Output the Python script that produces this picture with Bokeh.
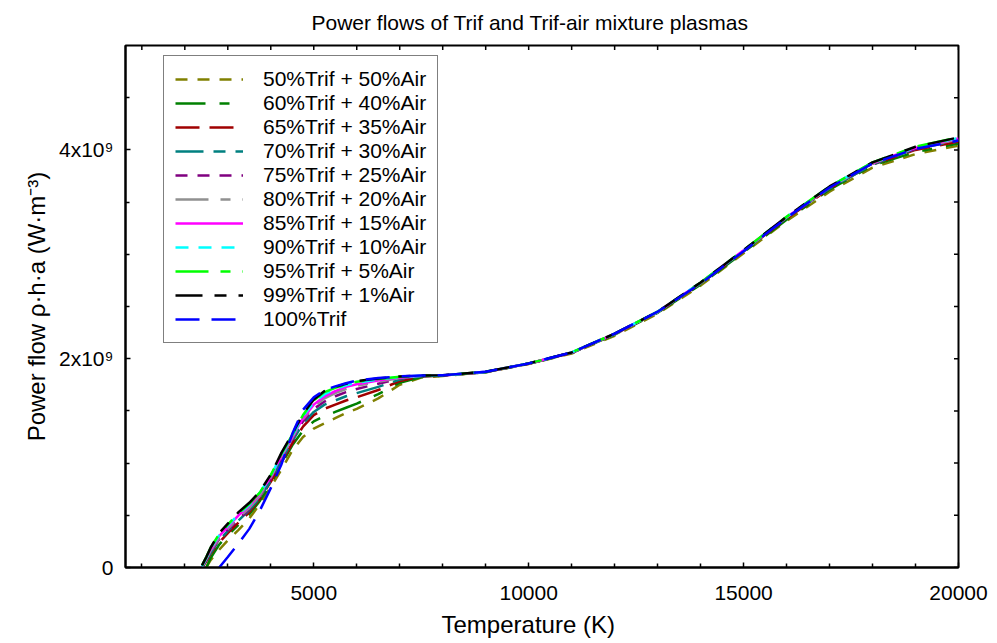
import math
from bokeh.plotting import figure
from bokeh.models import Range1d, FixedTicker, Legend, LegendItem, Title
from bokeh.embed import file_html
from bokeh.resources import INLINE

nan = float("nan")

# Temperature (K)
temperature = [2400, 2500, 2600, 2800, 3000, 3250, 3500, 3750, 4000, 4250, 4500,
               4750, 5000, 5250, 5500, 5750, 6000, 6500, 7000, 7500, 8000,
               9000, 10000, 11000, 12000, 13000, 14000, 15000, 16000, 17000,
               18000, 19000, 20000]

# Power flow in units of 1e9 W/m^3
trif50 = [nan, 0.00, 0.07, 0.17, 0.26, 0.36, 0.47, 0.61, 0.77, 0.94, 1.12, 1.25, 1.33, 1.38, 1.43, 1.48, 1.52, 1.62, 1.75, 1.82, 1.835,
          1.87, 1.95, 2.05, 2.22, 2.43, 2.70, 3.01, 3.32, 3.60, 3.83, 3.96, 4.04]
trif60 = [nan, 0.00, 0.09, 0.22, 0.31, 0.41, 0.51, 0.64, 0.80, 0.99, 1.17, 1.31, 1.40, 1.45, 1.49, 1.53, 1.57, 1.66, 1.77, 1.825, 1.838,
          1.871, 1.95, 2.055, 2.23, 2.44, 2.71, 3.02, 3.33, 3.62, 3.85, 3.98, 4.06]
trif65 = [0.00, 0.06, 0.13, 0.24, 0.33, 0.43, 0.53, 0.66, 0.82, 1.01, 1.19, 1.35, 1.46, 1.52, 1.56, 1.60, 1.63, 1.70, 1.785, 1.83, 1.839,
          1.872, 1.952, 2.056, 2.235, 2.445, 2.72, 3.03, 3.34, 3.63, 3.86, 4.00, 4.08]
trif70 = [0.00, 0.07, 0.14, 0.26, 0.35, 0.45, 0.55, 0.67, 0.83, 1.03, 1.21, 1.38, 1.49, 1.56, 1.60, 1.64, 1.67, 1.73, 1.80, 1.832, 1.84,
          1.872, 1.953, 2.057, 2.235, 2.445, 2.72, 3.03, 3.35, 3.63, 3.86, 4.01, 4.09]
trif75 = [0.00, 0.07, 0.15, 0.27, 0.36, 0.46, 0.56, 0.68, 0.85, 1.05, 1.23, 1.40, 1.52, 1.59, 1.64, 1.68, 1.71, 1.76, 1.81, 1.834, 1.84,
          1.873, 1.953, 2.058, 2.237, 2.447, 2.725, 3.035, 3.35, 3.64, 3.87, 4.01, 4.10]
trif80 = [0.01, 0.08, 0.16, 0.28, 0.37, 0.48, 0.57, 0.69, 0.86, 1.06, 1.24, 1.42, 1.54, 1.62, 1.67, 1.71, 1.74, 1.78, 1.815, 1.835, 1.84,
          1.873, 1.954, 2.058, 2.237, 2.447, 2.725, 3.035, 3.355, 3.64, 3.87, 4.02, 4.10]
trif85 = [0.01, 0.09, 0.17, 0.30, 0.39, 0.50, 0.59, 0.71, 0.87, 1.07, 1.25, 1.43, 1.56, 1.64, 1.69, 1.73, 1.755, 1.79, 1.82, 1.836, 1.84,
          1.874, 1.954, 2.059, 2.238, 2.448, 2.728, 3.038, 3.355, 3.645, 3.875, 4.02, 4.11]
trif90 = [0.01, 0.09, 0.18, 0.31, 0.40, 0.51, 0.60, 0.72, 0.88, 1.08, 1.26, 1.45, 1.58, 1.66, 1.71, 1.745, 1.77, 1.80, 1.825, 1.836, 1.84,
          1.874, 1.955, 2.06, 2.239, 2.449, 2.729, 3.039, 3.358, 3.648, 3.878, 4.025, 4.115]
trif95 = [0.02, 0.10, 0.19, 0.32, 0.41, 0.52, 0.61, 0.72, 0.885, 1.09, 1.27, 1.46, 1.60, 1.68, 1.72, 1.755, 1.78, 1.805, 1.828, 1.837, 1.84,
          1.875, 1.955, 2.06, 2.24, 2.45, 2.73, 3.04, 3.36, 3.65, 3.88, 4.03, 4.12]
trif99 = [0.02, 0.10, 0.19, 0.33, 0.42, 0.53, 0.62, 0.73, 0.89, 1.10, 1.28, 1.47, 1.61, 1.69, 1.73, 1.76, 1.785, 1.81, 1.83, 1.838, 1.842,
          1.875, 1.955, 2.06, 2.24, 2.45, 2.73, 3.04, 3.36, 3.65, 3.88, 4.03, 4.12]
trif100 = [nan, nan, nan, 0.00, 0.10, 0.23, 0.37, 0.55, 0.76, 0.99, 1.28, 1.51, 1.63, 1.70, 1.735, 1.765, 1.79, 1.815, 1.83, 1.838, 1.842,
           1.875, 1.955, 2.06, 2.24, 2.45, 2.72, 3.03, 3.35, 3.64, 3.87, 4.01, 4.09]

labels = ["50%Trif + 50%Air", "60%Trif + 40%Air", "65%Trif + 35%Air", "70%Trif + 30%Air",
          "75%Trif + 25%Air", "80%Trif + 20%Air", "85%Trif + 15%Air", "90%Trif + 10%Air",
          "95%Trif + 5%Air", "99%Trif + 1%Air", "100%Trif"]
series = [trif50, trif60, trif65, trif70, trif75, trif80, trif85, trif90, trif95, trif99, trif100]
colors = ["#808000", "#008000", "#a00000", "#008080", "#800080", "#909090",
          "#ff00ff", "#00ffff", "#00ff00", "#000000", "#0000ff"]
dashes = ["12 10", "30 14 10 14", "24 10", "28 10 12 10", "12 10", "33 12 10 12",
          "solid", "13 10", "33 12 10 12", "27 12 12 12", "24 12"]

title_text = "Power flows of Trif and Trif-air mixture plasmas"
x_title = "Temperature (K)"
y_title = "Power flow ρ·h·a (W·m⁻³)"

x_start, x_end = 620, 20000
y_start, y_end = 0, 5
x_major = [5000, 10000, 15000, 20000]
x_minor = [1000, 2000, 3000, 4000, 6000, 7000, 8000, 9000, 11000, 12000, 13000, 14000,
           16000, 17000, 18000, 19000]
y_major = [0, 2, 4]
y_minor = [0.5, 1, 1.5, 2.5, 3, 3.5, 4.5]
y_labels = {0: "0", 2: "2x10⁹", 4: "4x10⁹"}

FONT = "Liberation Sans"

p = figure(width=997, height=643, output_backend="svg", toolbar_location=None,
           x_range=Range1d(x_start, x_end), y_range=Range1d(y_start, y_end),
           min_border_left=125, min_border_right=39, min_border_top=45, min_border_bottom=76)
p.background_fill_color = "white"
p.border_fill_color = "white"
p.xgrid.visible = False
p.ygrid.visible = False
p.outline_line_color = "black"
p.outline_line_width = 2

p.title.text = title_text
p.title.text_font = FONT
p.title.text_font_size = "21px"
p.title.text_font_style = "normal"
p.title.text_color = "black"
p.title.align = "left"
p.title.offset = 186
p.title.vertical_align = "top"
p.title.standoff = 19

xt = FixedTicker(ticks=x_major, minor_ticks=x_minor)
yt = FixedTicker(ticks=y_major, minor_ticks=y_minor)

xa = p.xaxis[0]
xa.ticker = xt
ya = p.yaxis[0]
ya.ticker = yt
ya.major_label_overrides = y_labels
ya.axis_label = y_title

for ax in (xa, ya):
    ax.axis_line_width = 2
    ax.axis_line_color = "black"
    ax.major_tick_in = 5
    ax.major_tick_out = 0
    ax.minor_tick_in = 4
    ax.minor_tick_out = 0
    ax.major_tick_line_width = 1.5
    ax.minor_tick_line_width = 1.5
    ax.major_label_text_font = FONT
    ax.major_label_text_font_size = "21px"
    ax.major_label_text_color = "black"
    ax.axis_label_text_font = FONT
    ax.axis_label_text_font_size = "24px"
    ax.axis_label_text_font_style = "normal"
    ax.axis_label_text_color = "black"
xa.major_label_standoff = 18
ya.major_label_standoff = 12
ya.axis_label_standoff = 6

# x-axis title as a left-aligned title below the axis (allows horizontal offset)
xlab = Title(text=x_title, align="left", offset=316, standoff=12,
             text_font=FONT, text_font_size="24px", text_font_style="normal",
             text_color="black")
p.add_layout(xlab, "below")

# mirrored inward ticks on the top and right frame edges
top_x = sorted(x_major + x_minor)
p.scatter(top_x, [y_end] * len(top_x), marker="dash", angle=math.pi / 2, size=9,
          line_color="black", line_width=1.5)
right_y = sorted(y_major + y_minor)
p.scatter([x_end] * len(right_y), right_y, marker="dash", size=9,
          line_color="black", line_width=1.5)

items = []
for lab, ys, c, d in zip(labels, series, colors, dashes):
    r = p.line(temperature, ys, line_color=c, line_width=2.5, line_dash=d)
    items.append(LegendItem(label=lab, renderers=[r]))

legend = Legend(items=items, location=(38, 224), border_line_color="black", border_line_width=1.5,
                background_fill_alpha=1, label_text_font=FONT, label_text_font_size="21px",
                label_text_color="black",
                glyph_width=68, glyph_height=24, label_height=24, spacing=0, padding=11,
                label_standoff=20, margin=0)
p.add_layout(legend)

open("out.html", "w").write(file_html(p, INLINE))
